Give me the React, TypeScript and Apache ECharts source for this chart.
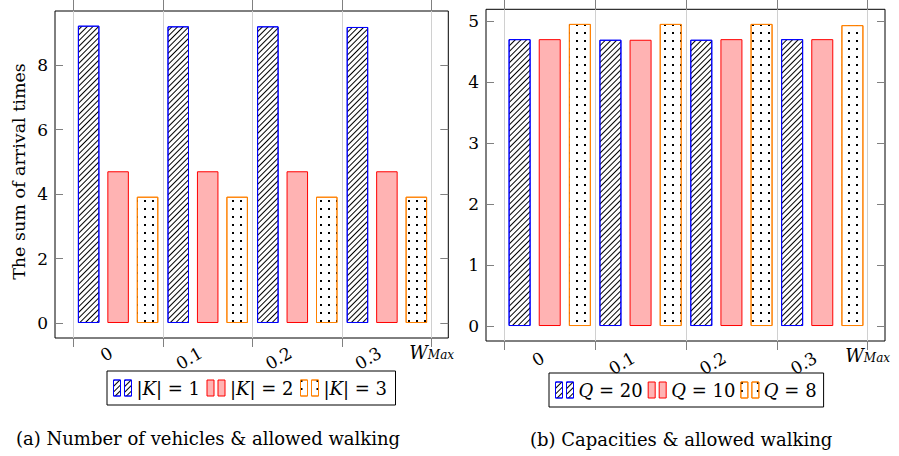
import React, { useEffect, useRef } from 'react';
import * as echarts from 'echarts';

// ---- data ----
const categories = ['0', '0.1', '0.2', '0.3'];
const boundaryLabels = ['b0', 'b1', 'b2', 'b3', 'W_Max'];
const namesA = ['|K| = 1', '|K| = 2', '|K| = 3'];
const valuesK1 = [9.23, 9.21, 9.21, 9.19];
const valuesK2 = [4.71, 4.71, 4.71, 4.71];
const valuesK3 = [3.92, 3.92, 3.92, 3.92];
const namesB = ['Q = 20', 'Q = 10', 'Q = 8'];
const valuesQ20 = [4.71, 4.70, 4.70, 4.71];
const valuesQ10 = [4.71, 4.70, 4.71, 4.71];
const valuesQ8 = [4.96, 4.96, 4.96, 4.94];
const yTicksA = [0, 2, 4, 6, 8];
const yTicksB = [0, 1, 2, 3, 4, 5];
const yTitleA = 'The sum of arrival times';
const captionA = '(a) Number of vehicles & allowed walking';
const captionB = '(b) Capacities & allowed walking';

const FONT = 'DejaVu Serif';
const BLUE = '#0000ff';
const RED = '#ff0000';
const PINK = '#ffb3b3';
const ORANGE = '#ff8000';
const TICK = '#808080';
const GRIDC = '#d0d0d0';

const hatchDecal = {
  symbol: 'rect', symbolSize: 1, color: '#000', backgroundColor: '#fff',
  dashArrayX: [1, 0], dashArrayY: [1, 3], rotation: -Math.PI / 4,
};
const dotDecal = {
  symbol: 'rect', symbolSize: 1, color: '#000', backgroundColor: '#fff',
  dashArrayX: [2, 6], dashArrayY: [2, 6], rotation: 0,
};
const twoBars = 'path://M0,0h7v16h-7zM11,0h7v16h-7z';

const styles = [
  { color: '#fff', borderColor: BLUE, borderWidth: 1, decal: hatchDecal },
  { color: PINK, borderColor: RED, borderWidth: 1 },
  { color: '#fff', borderColor: ORANGE, borderWidth: 1, decal: dotDecal },
];

const wMaxRich = {
  w: { fontFamily: FONT, fontStyle: 'italic', fontSize: 18, color: '#000', lineHeight: 20, verticalAlign: 'top' },
  s: { fontFamily: FONT, fontStyle: 'italic', fontSize: 12, color: '#000', lineHeight: 20, verticalAlign: 'top', padding: [6, 0, 0, 0] },
};

type PanelCfg = {
  gi: number;
  frame: { left: number; top: number; width: number; height: number };
  inner: { left: number; width: number };
  ymin: number; ymax: number; yInt: number; yTicks: number[];
  labelMargin: number;
  names: string[];
  values: number[][];
  barWidth: number;
  legend: { left: number; top: number; textWidth?: number; italic: string };
  yTitle?: string;
};

function buildPanel(c: PanelCfg) {
  const grids = [
    { left: c.frame.left, top: c.frame.top, width: c.frame.width, height: c.frame.height, show: true, borderColor: '#000', borderWidth: 1, backgroundColor: 'transparent' },
    { left: c.inner.left, top: c.frame.top, width: c.inner.width, height: c.frame.height, show: false },
  ];
  const fg = c.gi, bg = c.gi + 1;
  const xAxes = [
    {
      type: 'category', gridIndex: bg, position: 'bottom', data: categories, boundaryGap: true,
      axisLine: { show: false }, axisTick: { show: false }, splitLine: { show: false },
      axisLabel: { interval: 0, rotate: 30, margin: c.labelMargin, padding: [0, 8, 0, 0], fontFamily: FONT, fontSize: 17, color: '#000' },
    },
    {
      type: 'category', gridIndex: bg, position: 'bottom', data: boundaryLabels, boundaryGap: false,
      axisLine: { show: false },
      axisTick: { show: true, inside: false, length: 9, interval: 0, lineStyle: { color: TICK } },
      splitLine: { show: true, interval: 0, lineStyle: { color: GRIDC, width: 1 } },
      axisLabel: {
        interval: 0, margin: 5,
        formatter: (v: string) => (v === 'W_Max' ? '{w|W}{s|Max}' : ''),
        rich: wMaxRich,
      },
    },
    {
      type: 'category', gridIndex: bg, position: 'top', data: boundaryLabels, boundaryGap: false,
      axisLine: { show: false },
      axisTick: { show: true, inside: false, length: 11, interval: 0, lineStyle: { color: TICK } },
      splitLine: { show: false }, axisLabel: { show: false },
    },
    { type: 'value', gridIndex: fg, show: false, min: 0, max: 1 },
  ];
  const yBase = { type: 'value', min: c.ymin, max: c.ymax, minInterval: c.yInt, maxInterval: c.yInt };
  const yAxes: any[] = [
    {
      ...yBase, gridIndex: fg, position: 'left',
      axisLine: { show: false }, splitLine: { show: false },
      axisTick: { show: true, inside: true, length: 8, customValues: c.yTicks, lineStyle: { color: TICK } },
      axisLabel: { customValues: c.yTicks, margin: 7, fontFamily: FONT, fontSize: 17, color: '#000' },
      ...(c.yTitle ? { name: c.yTitle, nameLocation: 'middle', nameGap: 27, nameTextStyle: { fontFamily: FONT, fontSize: 17.5, color: '#000', padding: [0, 0, 0, 6] } } : {}),
    },
    {
      ...yBase, gridIndex: fg, position: 'right',
      axisLine: { show: false }, splitLine: { show: false },
      axisTick: { show: true, inside: true, length: 8, customValues: c.yTicks, lineStyle: { color: TICK } },
      axisLabel: { show: false },
    },
    { ...yBase, gridIndex: bg, show: false },
  ];
  return { grids, xAxes, yAxes };
}

function makeOption() {
  const A: PanelCfg = {
    gi: 0,
    frame: { left: 55, top: 11, width: 393.3, height: 327 },
    inner: { left: 73.3, width: 358.4 },
    ymin: -0.466, ymax: 9.686, yInt: 2, yTicks: yTicksA,
    labelMargin: 9.5, names: namesA, values: [valuesK1, valuesK2, valuesK3], barWidth: 21.5,
    legend: { left: 107, top: 371, textWidth: 65, italic: 'K' }, yTitle: yTitleA,
  };
  const B: PanelCfg = {
    gi: 2,
    frame: { left: 486, top: 9.3, width: 399, height: 331.7 },
    inner: { left: 504.3, width: 363.4 },
    ymin: -0.246, ymax: 5.2, yInt: 1, yTicks: yTicksB,
    labelMargin: 11.5, names: namesB, values: [valuesQ20, valuesQ10, valuesQ8], barWidth: 22,
    legend: { left: 549, top: 373, italic: 'Q' },
  };
  const pa = buildPanel(A);
  const pb = buildPanel(B);
  const series: any[] = [];
  const legends: any[] = [];
  [A, B].forEach((c, pi) => {
    const xIdx = pi * 4;
    const yIdx = pi * 3 + 2;
    c.names.forEach((n, i) => {
      series.push({
        type: 'bar', name: n, xAxisIndex: xIdx, yAxisIndex: yIdx, data: c.values[i],
        barWidth: c.barWidth, barGap: '37%', itemStyle: styles[i],
      });
    });
    legends.push({
      show: true, left: c.legend.left, top: c.legend.top, orient: 'horizontal',
      itemWidth: 18, itemHeight: 16, itemGap: 5, padding: [7, 7, 7, 6],
      borderColor: '#000', borderWidth: 1, selectedMode: false,
      data: c.names.map((n, i) => ({ name: n, icon: twoBars, itemStyle: styles[i] })),
      formatter: (n: string) => n.replace(c.legend.italic, '{i|' + c.legend.italic + '}'),
      textStyle: {
        fontFamily: FONT, fontSize: 18, color: '#000', lineHeight: 20,
        ...(c.legend.textWidth ? { width: c.legend.textWidth } : {}),
        rich: { i: { fontFamily: FONT, fontStyle: 'italic', fontSize: 18, color: '#000', lineHeight: 20 } },
      },
    });
  });
  return {
    animation: false,
    backgroundColor: '#fff',
    title: [
      { text: captionA, left: 16, top: 429, padding: 0, textStyle: { fontFamily: FONT, fontSize: 18, fontWeight: 'normal', color: '#000' } },
      { text: captionB, left: 530, top: 430, padding: 0, textStyle: { fontFamily: FONT, fontSize: 18, fontWeight: 'normal', color: '#000' } },
    ],
    legend: legends,
    grid: [...pa.grids, ...pb.grids],
    xAxis: [...pa.xAxes, ...pb.xAxes],
    yAxis: [...pa.yAxes, ...pb.yAxes],
    series,
  };
}

export default function App() {
  const ref = useRef<HTMLDivElement>(null);
  useEffect(() => {
    if (!ref.current) return;
    const chart = echarts.init(ref.current, undefined, { renderer: 'svg' });
    chart.setOption(makeOption() as any);
    return () => chart.dispose();
  }, []);
  return <div ref={ref} style={{ position: 'fixed', left: 0, top: 0, width: 899, height: 456 }} />;
}
